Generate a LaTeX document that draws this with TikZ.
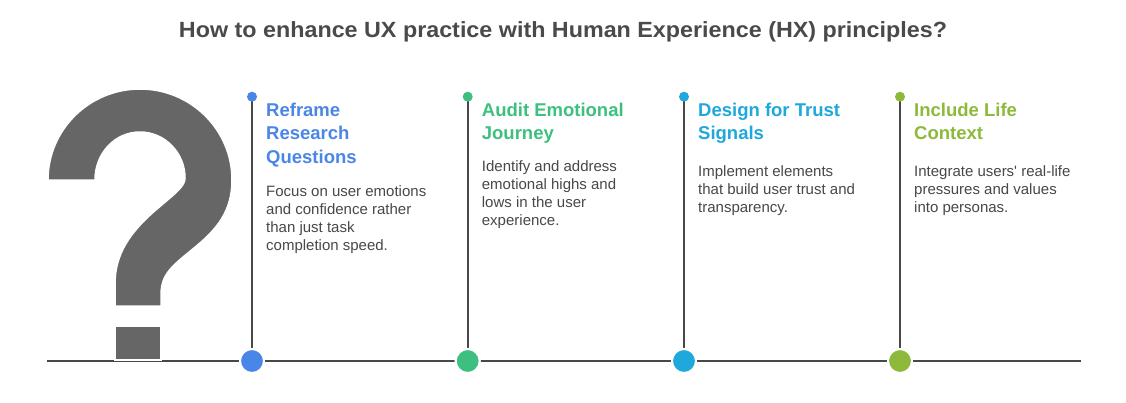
\documentclass[tikz,border=0pt]{standalone}
\usepackage{fontspec}
\setmainfont{Liberation Sans}
\usepackage{graphicx}
\definecolor{linegray}{HTML}{484848}
\definecolor{qgray}{HTML}{666666}
\definecolor{titlegray}{HTML}{4A4A4A}
\definecolor{bodygray}{HTML}{484848}
\definecolor{cblue}{HTML}{4A86E8}
\definecolor{cgreen}{HTML}{3DC07F}
\definecolor{ccyan}{HTML}{1EA8DC}
\definecolor{clime}{HTML}{8DBA3A}
\begin{document}
\begin{tikzpicture}[x=1pt,y=-1pt,
  bigdot/.style={circle,minimum size=24pt,inner sep=0pt,draw=white,line width=2pt},
  smalldot/.style={circle,minimum size=10pt,inner sep=0pt},
  stem/.style={draw=linegray,line width=2pt},
  headtext/.style={anchor=north west,inner sep=0pt,align=left,font=\fontsize{18.5}{23.7}\selectfont\bfseries},
  bodytext/.style={anchor=north west,inner sep=0pt,align=left,text=bodygray,font=\fontsize{15}{18}\selectfont}]
\useasboundingbox[fill=white] (0,0) rectangle (1126,402);
% title
\node[anchor=base,inner sep=0pt,text=titlegray] (title) at (563,37.3)
  {\resizebox{768pt}{\height}{\fontsize{22}{26}\selectfont\bfseries How to enhance UX practice with Human Experience (HX) principles?}};
% baseline
\coordinate (L) at (47,361);
\coordinate (R) at (1081,361);
\draw[stem] (L) -- (R);
% question mark
\fill[qgray,draw=white,line width=1.5pt] (48,180) .. controls (48,129.7) and (89.2,89) .. (140,89)
  .. controls (190.8,89) and (232,129.7) .. (232,180)
  .. controls (232,212) and (216,230) .. (194,248)
  .. controls (172,266) and (161,274) .. (161,295) -- (161,306) -- (115,306) -- (115,284)
  .. controls (115,254) and (130,232) .. (157,209)
  .. controls (177,192) and (185,186) .. (185,178)
  .. controls (185,153) and (164.9,132) .. (140,132)
  .. controls (115.1,132) and (95,153) .. (95,180) -- cycle;
\fill[qgray,draw=white,line width=1.5pt] (115,326) rectangle (161,360);
% markers
\foreach \n/\x/\c in {1/252/cblue,2/467.7/cgreen,3/684/ccyan,4/900/clime}{
  \coordinate (t\n) at (\x,96.7);
  \node[bigdot,fill=\c] (b\n) at (\x,361) {};
  \draw[stem] (t\n) -- (b\n);
  \node[smalldot,fill=\c] at (t\n) {};
  \node[bigdot,fill=\c] at (b\n) {};
}
% texts
\node[headtext,text=cblue] (h1) at (266,102.5) {Reframe\\Research\\Questions};
\node[bodytext] (d1) at (266,185) {Focus on user emotions\\and confidence rather\\than just task\\completion speed.};
\node[headtext,text=cgreen] (h2) at (481.7,102.5) {Audit Emotional\\Journey};
\node[bodytext] (d2) at (481.7,160) {Identify and address\\emotional highs and\\lows in the user\\experience.};
\node[headtext,text=ccyan] (h3) at (698,102.5) {Design for Trust\\Signals};
\node[bodytext] (d3) at (698,165) {Implement elements\\that build user trust and\\transparency.};
\node[headtext,text=clime] (h4) at (914,102.5) {Include Life\\Context};
\node[bodytext] (d4) at (914,165) {Integrate users\textquotesingle{} real-life\\pressures and values\\into personas.};
\end{tikzpicture}
\end{document}
